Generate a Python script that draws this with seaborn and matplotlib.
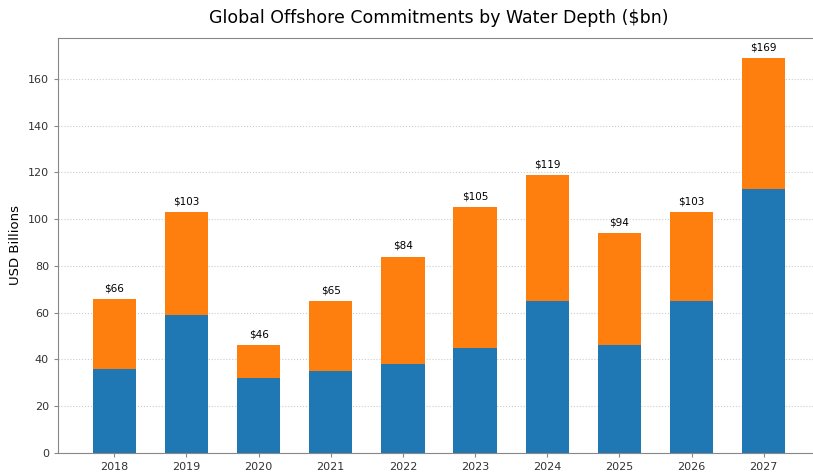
import matplotlib
matplotlib.use("Agg")
import matplotlib.pyplot as plt
import pandas as pd
import seaborn as sns

sns.set_style("white")
plt.rcParams['font.family'] = ['DejaVu Sans']
plt.rcParams['text.color'] = 'black'
plt.rcParams['axes.labelcolor'] = 'black'
plt.rcParams['xtick.color'] = '#333333'
plt.rcParams['ytick.color'] = '#333333'

# data
years = ["2018", "2019", "2020", "2021", "2022", "2023", "2024", "2025", "2026", "2027"]
shallow = [36, 59, 32, 35, 38, 45, 65, 46, 65, 113]
totals = [66, 103, 46, 65, 84, 105, 119, 94, 103, 169]

df = pd.DataFrame({"year": years, "shallow": shallow, "total": totals})

fig = plt.figure(figsize=(8.13, 4.73), dpi=100)
ax = fig.add_axes([0.0713, 0.0423, 0.9373, 0.8774])

bar_w = 0.6
sns.barplot(data=df, x="year", y="total", color="#ff7f0e", saturation=1, width=bar_w,
            linewidth=0, ax=ax)
sns.barplot(data=df, x="year", y="shallow", color="#1f77b4", saturation=1, width=bar_w,
            linewidth=0, ax=ax)

for i, t in enumerate(totals):
    ax.annotate(f"${t}", (i, t), xytext=(0, 4), textcoords="offset points",
                ha="center", va="bottom", fontsize=7.5, color="black")

ax.set_xlim(-0.78, len(years) - 1 + 0.78)
ax.set_ylim(0, max(totals) * 1.05)
ax.yaxis.grid(True, linestyle=":", color="#cccccc", linewidth=0.8)
ax.set_axisbelow(True)
for s in ax.spines.values():
    s.set_color("#888888")
ax.tick_params(axis="both", labelsize=8, length=3, bottom=True, left=True, color="#888888")
ax.set_xlabel("")
ax.set_ylabel("USD Billions", fontsize=9.5)
ax.set_title("Global Offshore Commitments by Water Depth ($bn)", fontsize=12.5, pad=11,
             color="black")

fig.savefig("out.png", dpi=100)
